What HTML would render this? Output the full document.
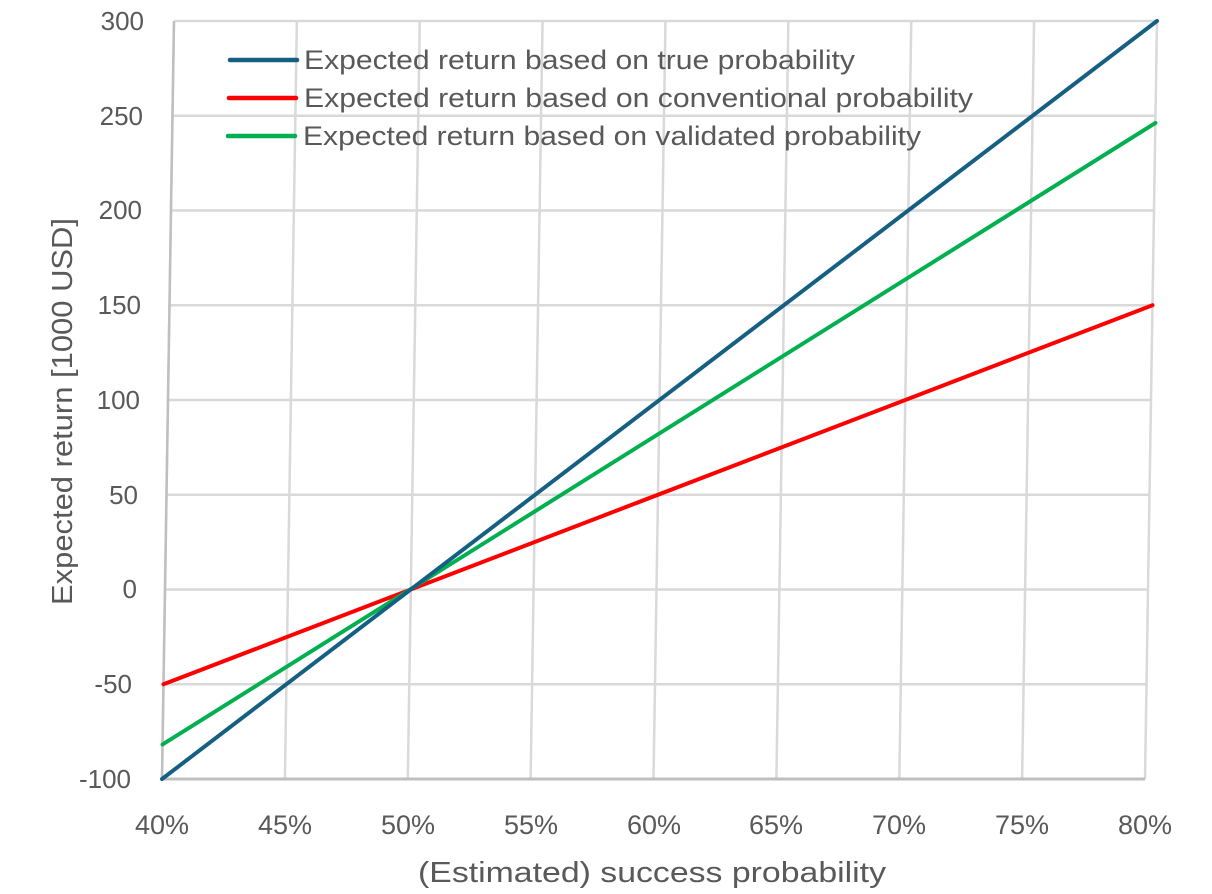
<!DOCTYPE html>
<html><head><meta charset="utf-8"><style>
html,body{margin:0;padding:0;background:#fff;}
svg{display:block;font-family:"Liberation Sans",sans-serif;}
</style></head><body>
<svg width="1212" height="894" viewBox="0 0 1212 894">
<g transform="matrix(1,0,-0.0158,1,12.31,0)">
  <g stroke="#d9d9d9" stroke-width="2.5" fill="none">
    <line x1="162" y1="21" x2="1145" y2="21"/>
    <line x1="162" y1="115.75" x2="1145" y2="115.75"/>
    <line x1="162" y1="210.5" x2="1145" y2="210.5"/>
    <line x1="162" y1="305.25" x2="1145" y2="305.25"/>
    <line x1="162" y1="400" x2="1145" y2="400"/>
    <line x1="162" y1="494.75" x2="1145" y2="494.75"/>
    <line x1="162" y1="589.5" x2="1145" y2="589.5"/>
    <line x1="162" y1="684.25" x2="1145" y2="684.25"/>
    <line x1="162" y1="21" x2="162" y2="779"/>
    <line x1="284.9" y1="21" x2="284.9" y2="779"/>
    <line x1="407.8" y1="21" x2="407.8" y2="779"/>
    <line x1="530.6" y1="21" x2="530.6" y2="779"/>
    <line x1="653.5" y1="21" x2="653.5" y2="779"/>
    <line x1="776.4" y1="21" x2="776.4" y2="779"/>
    <line x1="899.3" y1="21" x2="899.3" y2="779"/>
    <line x1="1022.1" y1="21" x2="1022.1" y2="779"/>
    <line x1="1145" y1="21" x2="1145" y2="779"/>
  </g>
  <line x1="162" y1="779" x2="1145" y2="779" stroke="#bfbfbf" stroke-width="3"/>
  <line x1="162" y1="21" x2="162" y2="779" stroke="#bfbfbf" stroke-width="2.5"/>
  <g stroke-width="4" fill="none" stroke-linecap="round">
    <line x1="162" y1="684.25" x2="1145" y2="305.25" stroke="#ff0000"/>
    <line x1="162" y1="744.4" x2="1145" y2="123" stroke="#00b050"/>
    <line x1="162" y1="779" x2="1145" y2="21" stroke="#156082"/>
  </g>
</g>
<g fill="#595959" font-size="26" text-anchor="end">
  <text x="144" y="30">300</text>
  <text x="143" y="125">250</text>
  <text x="142" y="219">200</text>
  <text x="141" y="314">150</text>
  <text x="140" y="409">100</text>
  <text x="138" y="504">50</text>
  <text x="137" y="598">0</text>
  <text x="132" y="693">-50</text>
  <text x="131" y="788">-100</text>
</g>
<g fill="#595959" font-size="27" text-anchor="middle">
  <text x="162" y="834">40%</text>
  <text x="285" y="834">45%</text>
  <text x="408" y="834">50%</text>
  <text x="531" y="834">55%</text>
  <text x="654" y="834">60%</text>
  <text x="776" y="834">65%</text>
  <text x="899" y="834">70%</text>
  <text x="1022" y="834">75%</text>
  <text x="1145" y="834">80%</text>
</g>
<text x="418" y="882" fill="#595959" font-size="29" textLength="468" lengthAdjust="spacingAndGlyphs">(Estimated) success probability</text>
<text transform="translate(72,605) rotate(-90)" fill="#595959" font-size="29" textLength="387" lengthAdjust="spacingAndGlyphs">Expected return [1000 USD]</text>
<g stroke-width="4.5" stroke-linecap="round">
  <line x1="230" y1="60" x2="297" y2="60" stroke="#156082"/>
  <line x1="229" y1="98" x2="296" y2="98" stroke="#ff0000"/>
  <line x1="228" y1="136" x2="295" y2="136" stroke="#00b050"/>
</g>
<g fill="#595959" font-size="27" lengthAdjust="spacingAndGlyphs">
  <text x="304" y="69" textLength="551" lengthAdjust="spacingAndGlyphs">Expected return based on true probability</text>
  <text x="304" y="107" textLength="669" lengthAdjust="spacingAndGlyphs">Expected return based on conventional probability</text>
  <text x="303" y="145" textLength="618" lengthAdjust="spacingAndGlyphs">Expected return based on validated probability</text>
</g>
</svg>
</body></html>
